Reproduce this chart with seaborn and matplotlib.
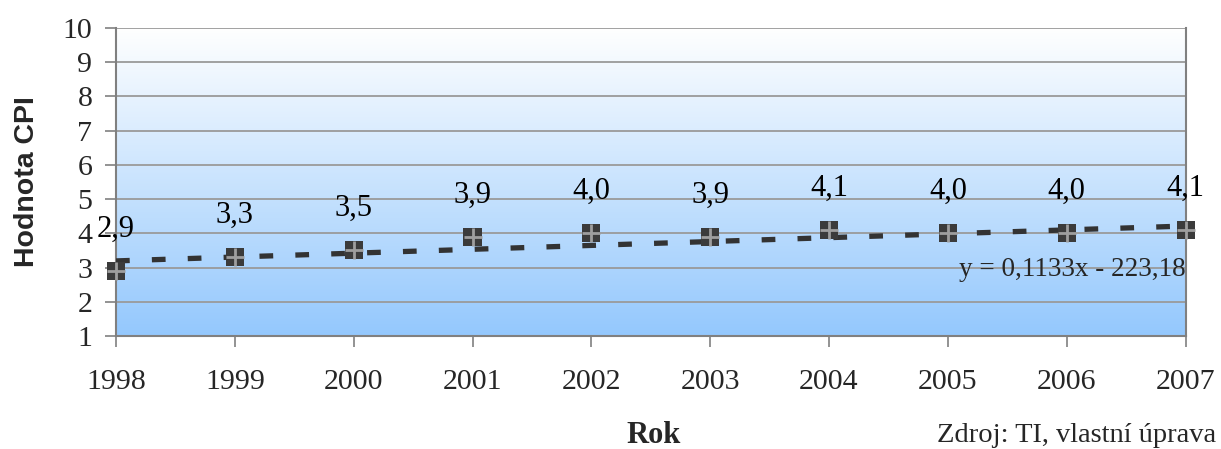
import numpy as np
import pandas as pd
import seaborn as sns
import matplotlib.pyplot as plt
from matplotlib.colors import LinearSegmentedColormap

# CPI values
years = [1998, 1999, 2000, 2001, 2002, 2003, 2004, 2005, 2006, 2007]
cpi = [2.9, 3.3, 3.5, 3.9, 4.0, 3.9, 4.1, 4.0, 4.0, 4.1]
labels = ['2,9', '3,3', '3,5', '3,9', '4,0', '3,9', '4,1', '4,0', '4,0', '4,1']
# trend line as printed on the chart
slope = 0.1133
intercept = -223.18

df = pd.DataFrame({'year': years, 'cpi': cpi})

sns.set_theme(style='white')
plt.rcParams['font.family'] = ['Liberation Serif', 'DejaVu Serif']

fig = plt.figure(figsize=(12.21, 4.49), dpi=100)
ax = fig.add_axes([0.095, 0.2517, 0.876, 0.686])

# gradient background white (top) -> light blue (bottom)
cmap = LinearSegmentedColormap.from_list('bg', ['#ffffff', '#94c8fd'])
grad = np.linspace(0, 1, 256).reshape(-1, 1)
ax.imshow(grad, aspect='auto', cmap=cmap, extent=[1998, 2007, 1, 10],
          origin='upper', zorder=0)

ax.set_xlim(1998, 2007)
ax.set_ylim(1, 10)
ax.set_yticks(range(1, 11))
ax.set_xticks(years)

for v in range(2, 11):
    ax.axhline(v, color='#9a9a9a', lw=1.3, zorder=1)

tx = np.array([years[0], years[-1]])
ax.plot(tx, slope * tx + intercept, color='#333333', lw=3.8, dashes=(2.6, 4.2),
        zorder=3, solid_capstyle='butt', dash_capstyle='butt')

sns.scatterplot(data=df, x='year', y='cpi', marker='s', s=170, color='#3b3b3b',
                edgecolor='none', zorder=4, ax=ax, clip_on=False)
sns.scatterplot(data=df, x='year', y='cpi', marker='+', s=150, color='#9e9e9e',
                linewidth=2, zorder=5, ax=ax, clip_on=False)

for x, y, t in zip(years, cpi, labels):
    ax.text(x, y + 1.22, t, ha='center', va='center', fontsize=22, color='black', zorder=6)

ax.text(2007, 2.95, 'y = 0,1133x - 223,18', ha='right', va='center', fontsize=19.5, zorder=6)

for s in ['left', 'bottom', 'right']:
    ax.spines[s].set_color('#808080')
    ax.spines[s].set_linewidth(1.5)
ax.spines['top'].set_visible(False)

ax.tick_params(axis='x', direction='out', length=8, width=1.2, color='#808080',
               pad=16, labelsize=21.5, bottom=True)
ax.tick_params(axis='y', direction='out', length=8, width=1.2, color='#808080',
               pad=9, labelsize=21.5, left=True)

ax.set_xlabel('')
ax.set_ylabel('Hodnota CPI', family=['Liberation Sans', 'DejaVu Sans'],
              fontweight='bold', fontsize=20.5, labelpad=16)

fig.text(0.535, 0.031, 'Rok', ha='center', va='center', fontsize=22, fontweight='bold')
fig.text(0.996, 0.031, 'Zdroj: TI, vlastní úprava', ha='right', va='center', fontsize=20.5)

plt.savefig('out.png', dpi=100)
